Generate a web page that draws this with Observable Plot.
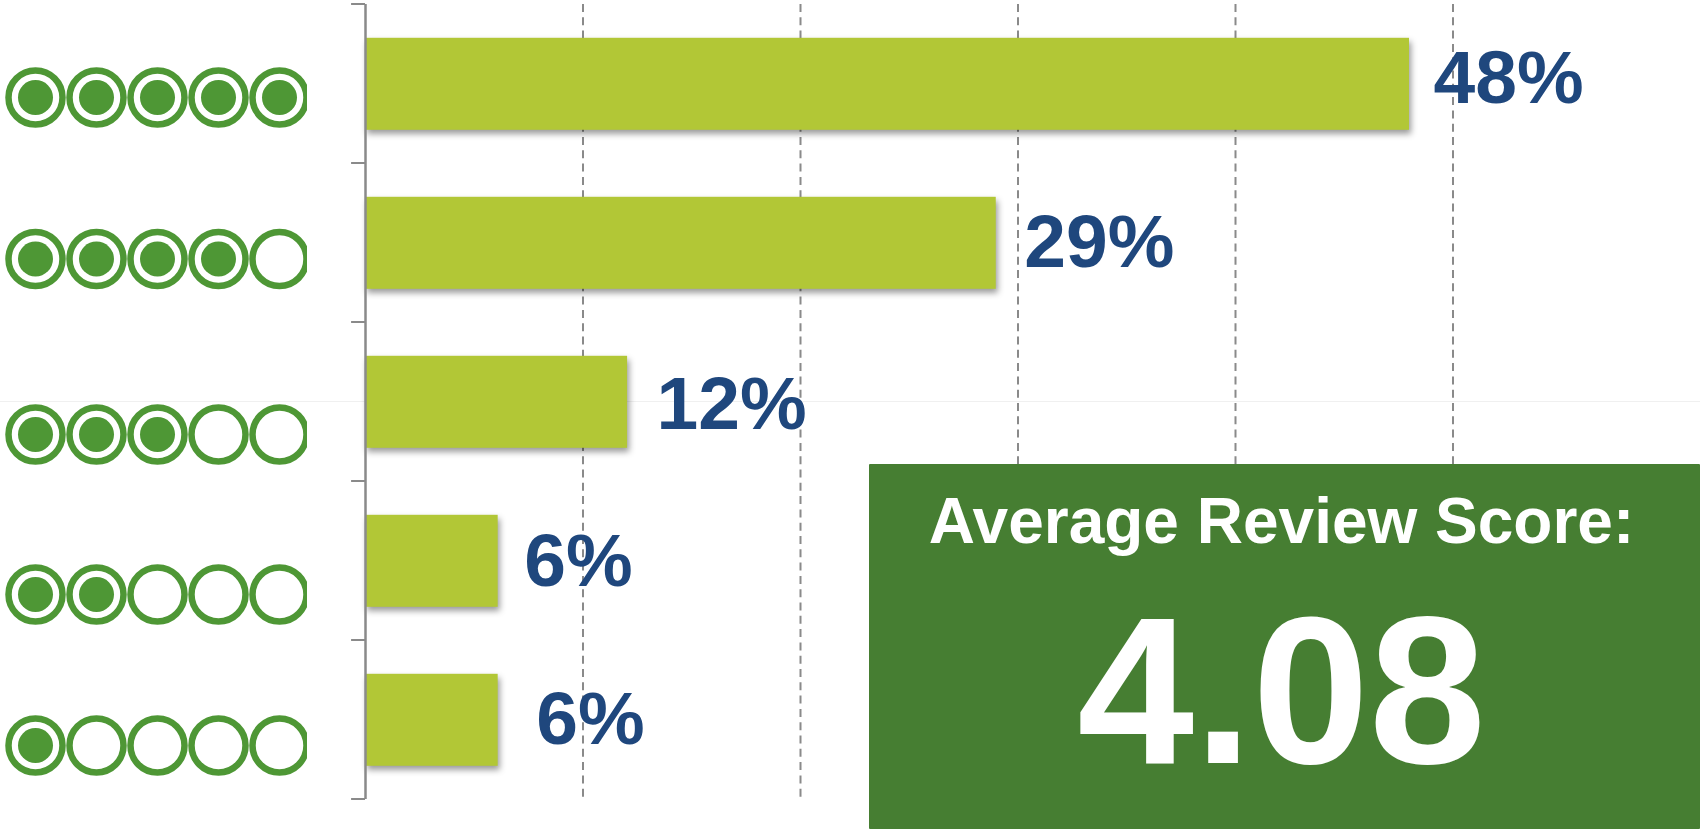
<!DOCTYPE html>
<html><head><meta charset="utf-8">
<script src="https://cdn.jsdelivr.net/npm/d3@7"></script>
<script src="https://cdn.jsdelivr.net/npm/@observablehq/plot@0.6"></script>
<style>
html,body{margin:0;padding:0;background:#fff;overflow:hidden}
#stage{position:relative;width:1700px;height:832px;font-family:"Liberation Sans",Arial,sans-serif}
#hair{position:absolute;left:0;width:1700px;top:400.5px;height:1px;background:#f0f0f0}
#box{position:absolute;left:869px;top:464px;width:831px;height:365px;background:#467e32;border-radius:1px}
#box div{position:absolute;color:#fff;font-weight:700;white-space:nowrap;line-height:1;left:0;width:100%;text-align:center}
#h{font-size:64px;top:25px;margin-left:-3px}
#v{font-size:210px;top:122px;margin-left:-3px}
</style></head><body>
<div id="stage"><div id="hair"></div></div>
<script>
const heading = "Average Review Score:";
const average = "4.08";
const ratings = [5, 4, 3, 2, 1];
const shares = [48, 29, 12.05, 6.1, 6.1];
const slots = [1, 2, 3, 4, 5];
const gridTicks = [10, 20, 30, 40, 50];

const rows = ratings.map((r, i) => ({rating: r, share: shares[i]}));
const labelDx = [24, 28, 29, 26, 38];
const labelDy = [-5, 0, 3, 1, 0];
const pipDy = [0, -0.5, 13, 11, 0];

const GREEN = "#4e9735", LIME = "#b2c736", NAVY = "#1f477d", GREY = "#8a8a8a";

const chart = Plot.plot({
  width: 1700, height: 832,
  marginTop: 4, marginBottom: 33, marginLeft: 365, marginRight: 0,
  style: {background: "transparent", position: "absolute", left: 0, top: 0, overflow: "visible"},
  x: {domain: [0, 50], range: [365, 1452.5], axis: null},
  y: {type: "band", domain: ratings, range: [4, 799], paddingInner: 0.42, paddingOuter: 0.21, axis: null},
  marks: [
    Plot.ruleX(gridTicks, {stroke: GREY, strokeWidth: 2, strokeDasharray: "8,5.3", strokeOpacity: 1}),
    Plot.barX(rows, {x: "share", y: "rating", dy: 0.8, fill: LIME, imageFilter: "drop-shadow(2px 4px 3px rgba(0,0,0,0.4))"}),
    Plot.ruleX([0], {stroke: GREY, strokeWidth: 2.5}),
    Plot.ruleY(ratings, {y: d => d, x1: -0.64, x2: 0, dy: -79.5, stroke: GREY, strokeWidth: 2}),
    Plot.ruleY([1], {y: d => d, x1: -0.64, x2: 0, dy: 79.5, stroke: GREY, strokeWidth: 2}),
    ...rows.map((row, i) => Plot.text([row], {
      x: "share", y: "rating", text: d => Math.round(d.share) + "%",
      dx: labelDx[i], dy: labelDy[i],
      textAnchor: "start", lineAnchor: "middle",
      fontFamily: "Liberation Sans", fontWeight: 700, fontSize: 75, fill: NAVY
    }))
  ]
});

const pips = Plot.plot({
  width: 307, height: 832,
  margin: 0,
  style: {background: "transparent", position: "absolute", left: 0, top: 0, overflow: "hidden"},
  x: {type: "point", domain: slots, range: [35, 279], padding: 0, axis: null},
  y: {type: "point", domain: ratings, range: [96, 746], padding: 0, axis: null},
  marks: ratings.flatMap((rating, i) => {
    const cells = slots.map(slot => ({slot, rating}));
    return [
      Plot.dot(cells, {x: "slot", y: "rating", dy: pipDy[i], r: 27, fill: "#fff", stroke: GREEN, strokeWidth: 6.5}),
      Plot.dot(cells.filter(c => c.slot <= c.rating), {x: "slot", y: "rating", dy: pipDy[i], r: 17.5, fill: GREEN})
    ];
  })
});

const stage = document.getElementById("stage");
stage.append(chart, pips);
const box = document.createElement("div");
box.id = "box";
const h = document.createElement("div"); h.id = "h"; h.textContent = heading;
const v = document.createElement("div"); v.id = "v"; v.textContent = average;
box.append(h, v);
stage.append(box);
</script>
</body></html>
